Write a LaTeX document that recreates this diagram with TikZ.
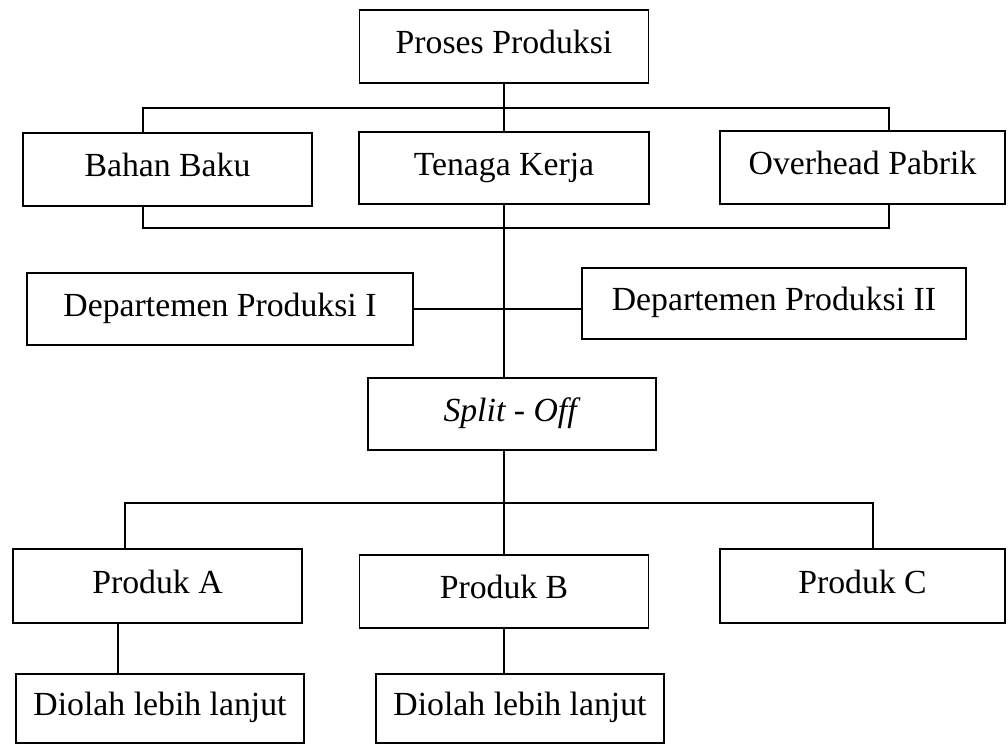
\documentclass[tikz,border=0pt]{standalone}
\usepackage{fontspec}
\setmainfont{Liberation Serif}
\usepackage{tikz}

\begin{document}
\begin{tikzpicture}[x=0.025cm,y=-0.025cm,font=\fontsize{24}{28}\selectfont,
  kotak/.style={draw,line width=1.1pt,minimum height=1.82cm,inner sep=0pt,text height=0.62cm,text depth=0.26cm},
  garis/.style={line width=0.9pt}]
  \useasboundingbox (0,0) rectangle (1008,745);
  \node[kotak,minimum width=7.225cm] (proses) at (504,46.5) {Proses Produksi};
  \node[kotak,minimum width=7.225cm] (bahan) at (167.5,169.5) {Bahan Baku};
  \node[kotak,minimum width=7.25cm,minimum height=1.8cm] (tenaga) at (504,168) {Tenaga Kerja};
  \node[kotak,minimum width=7.125cm] (overhead) at (862.5,167.5) {Overhead Pabrik};
  \node[kotak,minimum width=9.65cm,minimum height=1.8cm] (dept1) at (220,309) {Departemen Produksi I};
  \node[kotak,minimum width=9.6cm,minimum height=1.78cm] (dept2) at (774,303.5) {Departemen Produksi II};
  \node[kotak,minimum width=7.2cm,minimum height=1.8cm] (split) at (512,414) {\textit{Split - Off}};
  \node[kotak,minimum width=7.225cm,minimum height=1.85cm] (prodA) at (157.5,586) {Produk A};
  \node[kotak,minimum width=7.225cm] (prodB) at (504,591.5) {Produk B};
  \node[kotak,minimum width=7.125cm,minimum height=1.85cm] (prodC) at (862.5,586) {Produk C};
  \node[kotak,minimum width=7.2cm,minimum height=1.725cm] (olahA) at (160,708.5) {Diolah lebih lanjut};
  \node[kotak,minimum width=7.2cm,minimum height=1.725cm] (olahB) at (520,708.5) {Diolah lebih lanjut};

  \coordinate (atas1) at (143,108);
  \coordinate (atas2) at (889,108);
  \coordinate (bawah1) at (143,228);
  \coordinate (bawah2) at (889,228);
  \coordinate (cabang1) at (125,503);
  \coordinate (cabang2) at (873,503);

  \draw[garis] (proses) -- (tenaga);
  \draw[garis] (bahan.north -| atas1) -- (atas1) -- (atas2) -- (overhead.north -| atas2);
  \draw[garis] (bahan.south -| bawah1) -- (bawah1) -- (bawah2) -- (overhead.south -| bawah2);
  \draw[garis] (tenaga.south) -- (tenaga.south |- split.north);
  \draw[garis] (dept1.east) -- (dept1.east -| dept2.west);
  \draw[garis] (split.south -| prodB.north) -- (prodB.north);
  \draw[garis] (prodA.north -| cabang1) -- (cabang1) -- (cabang2) -- (prodC.north -| cabang2);
  \draw[garis] ([xshift=-0.99cm]prodA.south) -- ([xshift=-0.99cm]prodA.south |- olahA.north);
  \draw[garis] (prodB.south) -- (prodB.south |- olahB.north);
\end{tikzpicture}
\end{document}
